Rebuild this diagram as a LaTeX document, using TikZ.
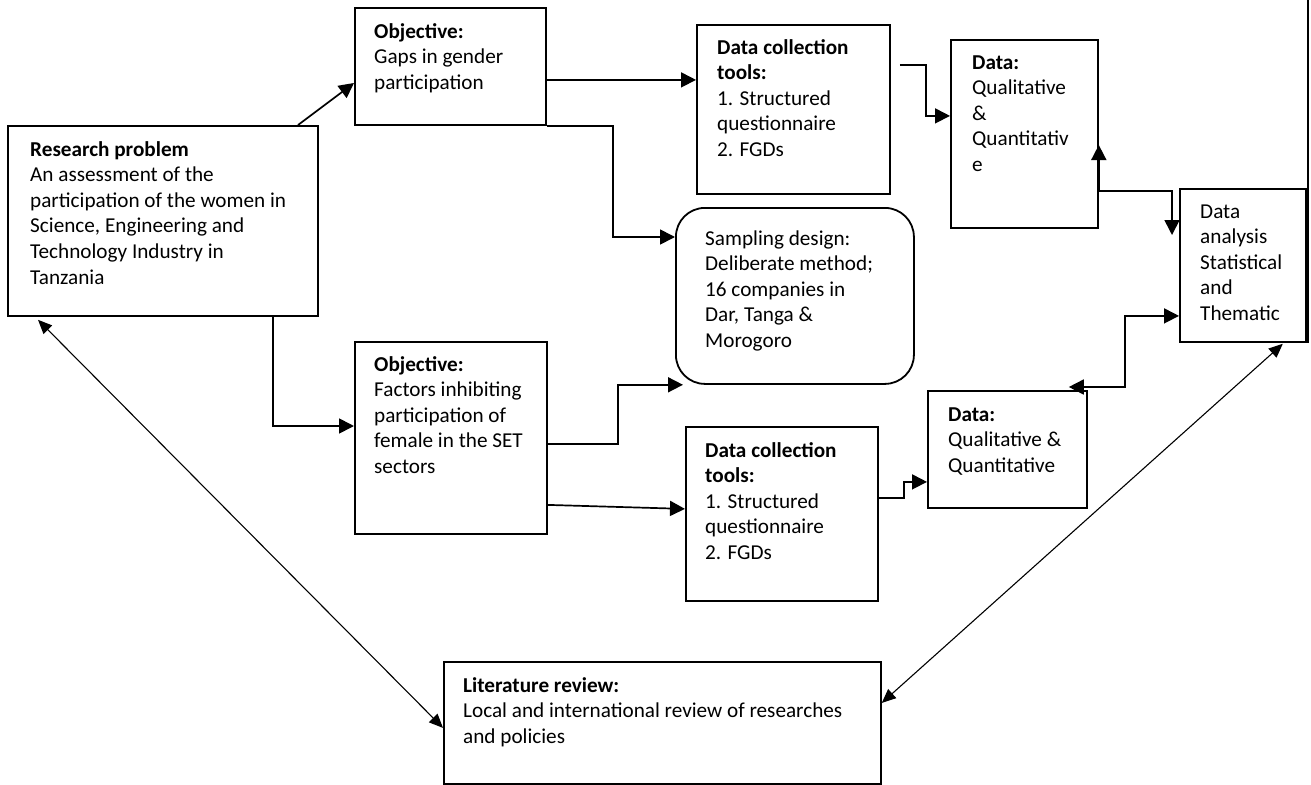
\documentclass[tikz,border=0pt]{standalone}
\usepackage{fontspec}
\setmainfont{Carlito}
\usetikzlibrary{arrows.meta,calc}
\begin{document}
\begin{tikzpicture}[x=1pt,y=-1pt,
  box/.style={draw, line width=1.8pt, anchor=north west, inner sep=0pt},
  txt/.style={anchor=north west, inner sep=0pt, align=left, font=\fontsize{21.2}{25.6}\selectfont},
  arr/.style={line width=1.7pt, -{Triangle[length=15pt,width=15pt]}},
  arrtwo/.style={line width=1.7pt, {Triangle[length=15pt,width=15pt]}-{Triangle[length=15pt,width=15pt]}},
  diag/.style={line width=1.1pt, {Triangle[length=14pt,width=12pt]}-{Triangle[length=14pt,width=12pt]}}]
\fill[white] (0,0) rectangle (1311,784);
\useasboundingbox (0,0) rectangle (1311,784);

% boxes
\node[box, minimum width=310pt, minimum height=190pt] (rp) at (7,125) {};
\node[box, minimum width=191pt, minimum height=117pt] (obj1) at (354,7) {};
\node[box, minimum width=192pt, minimum height=192pt] (obj2) at (354,341) {};
\node[box, minimum width=193pt, minimum height=169pt] (dc1) at (696,24) {};
\node[box, minimum width=147pt, minimum height=188pt] (data1) at (950,39) {};
\node[box, rounded corners=29pt, minimum width=238pt, minimum height=176pt] (samp) at (675,207) {};
\node[box, minimum width=126pt, minimum height=153pt] (ana) at (1179,188) {};
\node[box, minimum width=159pt, minimum height=117pt] (data2) at (927,390) {};
\node[box, minimum width=192pt, minimum height=174pt] (dc2) at (685,426) {};
\node[box, minimum width=437pt, minimum height=122pt] (lit) at (443,661) {};

% texts
\node[txt] (rpt) at (30,138) {\strut\textbf{Research problem}\\An assessment of the\\participation of the women in\\Science, Engineering and\\Technology Industry in\\Tanzania};
\node[txt] (obj1t) at (374,20) {\strut\textbf{Objective:}\\Gaps in gender\\participation};
\node[txt] (obj2t) at (374,353) {\strut\textbf{Objective:}\\Factors inhibiting\\participation of\\female in the SET\\sectors};
\node[txt] (dc1t) at (717,36) {\strut\textbf{Data collection}\\\textbf{tools:}\\1. Structured\\questionnaire\\2. FGDs};
\node[txt] (data1t) at (972,51) {\strut\textbf{Data:}\\Qualitative\\\&\\Quantitativ\\e};
\node[txt] (sampt) at (705,227) {\strut Sampling design:\\Deliberate method;\\16 companies in\\Dar, Tanga \&\\Morogoro};
\node[txt] (anat) at (1200,200) {\strut Data\\analysis\\Statistical\\and\\Thematic};
\node[txt] (data2t) at (948,403) {\strut\textbf{Data:}\\Qualitative \&\\Quantitative};
\node[txt] (dc2t) at (705,439) {\strut\textbf{Data collection}\\\textbf{tools:}\\1. Structured\\questionnaire\\2. FGDs};
\node[txt] (litt) at (463,674) {\strut\textbf{Literature review:}\\Local and international review of researches\\and policies};

% connectors
\draw[arr] ([xshift=291pt]rp.north west) -- ([yshift=-76pt]obj1.north west);
\draw[arr] ([yshift=-13.5pt]obj1.east) -- ([yshift=-13.5pt]obj1.east -| dc1.west);
\draw[arr] (obj1.south east) -- ++(66,0) |- ([yshift=-30pt]samp.north west);
\draw[arr] ([xshift=266pt]rp.south west) |- ([yshift=-85pt]obj2.north west);
\draw[arr] ([yshift=-6pt]obj2.east) -- ++(70,0) |- ([xshift=8pt]samp.south west);
\draw[arr] ([yshift=-67pt]obj2.east) -- ([yshift=5pt]dc2.west);
\draw[arr] ([xshift=9pt,yshift=44.5pt]dc1.east) -- ++(26,0) |- ([yshift=18pt]data1.west);
\draw[arrtwo] ([yshift=-106pt]data1.north east) -- ([yshift=-152pt]data1.north east) -| ([xshift=-7pt,yshift=-47pt]ana.north west);
\draw[arr] ([yshift=16pt]dc2.east) -- ++(25,0) |- ([yshift=-32.5pt]data2.west);
\draw[arrtwo] ([xshift=-19pt,yshift=3pt]data2.north east) -- ++(56,0) |- ([yshift=-50.5pt]ana.west);
\draw[diag] ([xshift=31pt,yshift=-3pt]rp.south west) -- ([yshift=-5pt]lit.west);
\draw[diag] ([xshift=-24pt,yshift=-1pt]ana.south east) -- ([yshift=20pt]lit.east);

% right edge line
\coordinate (edgetop) at (1308,0);
\draw[line width=1.8pt] (edgetop) -- (edgetop |- ana.south);
\end{tikzpicture}
\end{document}
